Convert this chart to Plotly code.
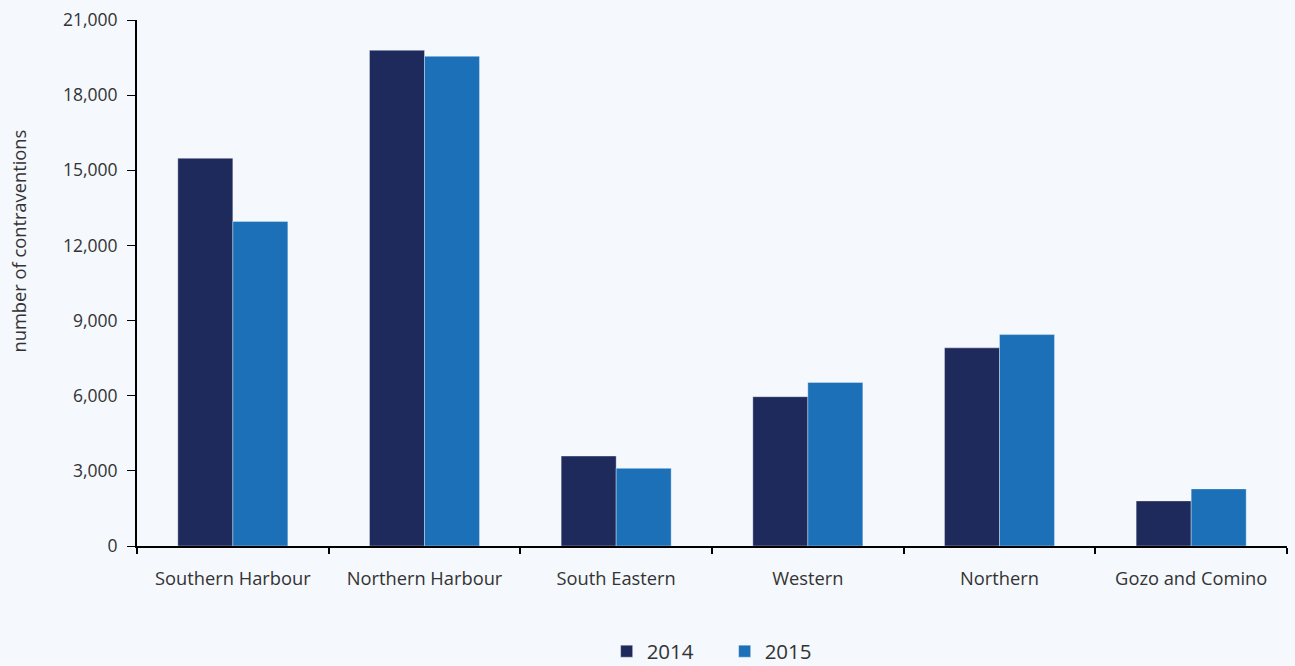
import plotly.graph_objects as go

regions = ["Southern Harbour", "Northern Harbour", "South Eastern", "Western", "Northern", "Gozo and Comino"]
values_2014 = [15480, 19790, 3590, 5960, 7910, 1800]
values_2015 = [12960, 19550, 3100, 6530, 8440, 2280]
y_ticks = [0, 3000, 6000, 9000, 12000, 15000, 18000, 21000]
y_tick_labels = ["0", "3,000", "6,000", "9,000", "12,000", "15,000", "18,000", "21,000"]
y_title = "number of contraventions"

BG = "#F5F8FC"
FONT = "Open Sans, Noto Sans, sans-serif"

fig = go.Figure()
fig.add_trace(go.Bar(name="2014", x=regions, y=values_2014,
                     marker=dict(color="#1F2A5C", line=dict(color="rgba(255,255,255,0.35)", width=1))))
fig.add_trace(go.Bar(name="2015", x=regions, y=values_2015,
                     marker=dict(color="#1B70B8", line=dict(color="rgba(255,255,255,0.35)", width=1))))

fig.update_layout(
    width=1295, height=666,
    paper_bgcolor=BG, plot_bgcolor=BG,
    margin=dict(l=137, r=8, t=20, b=120),
    barmode="group", bargap=0.426, bargroupgap=0,
    font=dict(family=FONT, size=17, color="#333333"),
    showlegend=True,
    legend=dict(orientation="h", x=0.511, xanchor="center", yref="container", y=0.022, yanchor="middle",
                font=dict(size=20.5, color="#333333"), bgcolor="rgba(0,0,0,0)",
                itemwidth=30, entrywidth=73, entrywidthmode="pixels", traceorder="normal"),
    xaxis=dict(showline=True, linecolor="black", linewidth=2, ticks="outside",
               tickson="boundaries", ticklen=6, tickcolor="black", tickwidth=2,
               showgrid=False, tickfont=dict(size=18.3, color="#333333"),
               ticklabelstandoff=15),
    yaxis=dict(range=[0, 21000], tickvals=y_ticks, ticktext=y_tick_labels,
               showline=True, linecolor="black", linewidth=2, ticks="outside",
               ticklen=8, tickcolor="black", tickwidth=1, showgrid=False, zeroline=False,
               tickfont=dict(size=17.5, color="#333333"), ticklabelstandoff=6),
    annotations=[dict(text=y_title, textangle=-90, xref="paper", yref="paper",
                      x=-119 / 1150, y=(546 - 241.5) / 526, xanchor="center", yanchor="middle",
                      showarrow=False, font=dict(size=18.3, color="#333333"))],
)

fig.write_html("out.html", config={"displayModeBar": False},
               post_script="document.body.style.margin='0';document.body.style.background='%s';" % BG)
